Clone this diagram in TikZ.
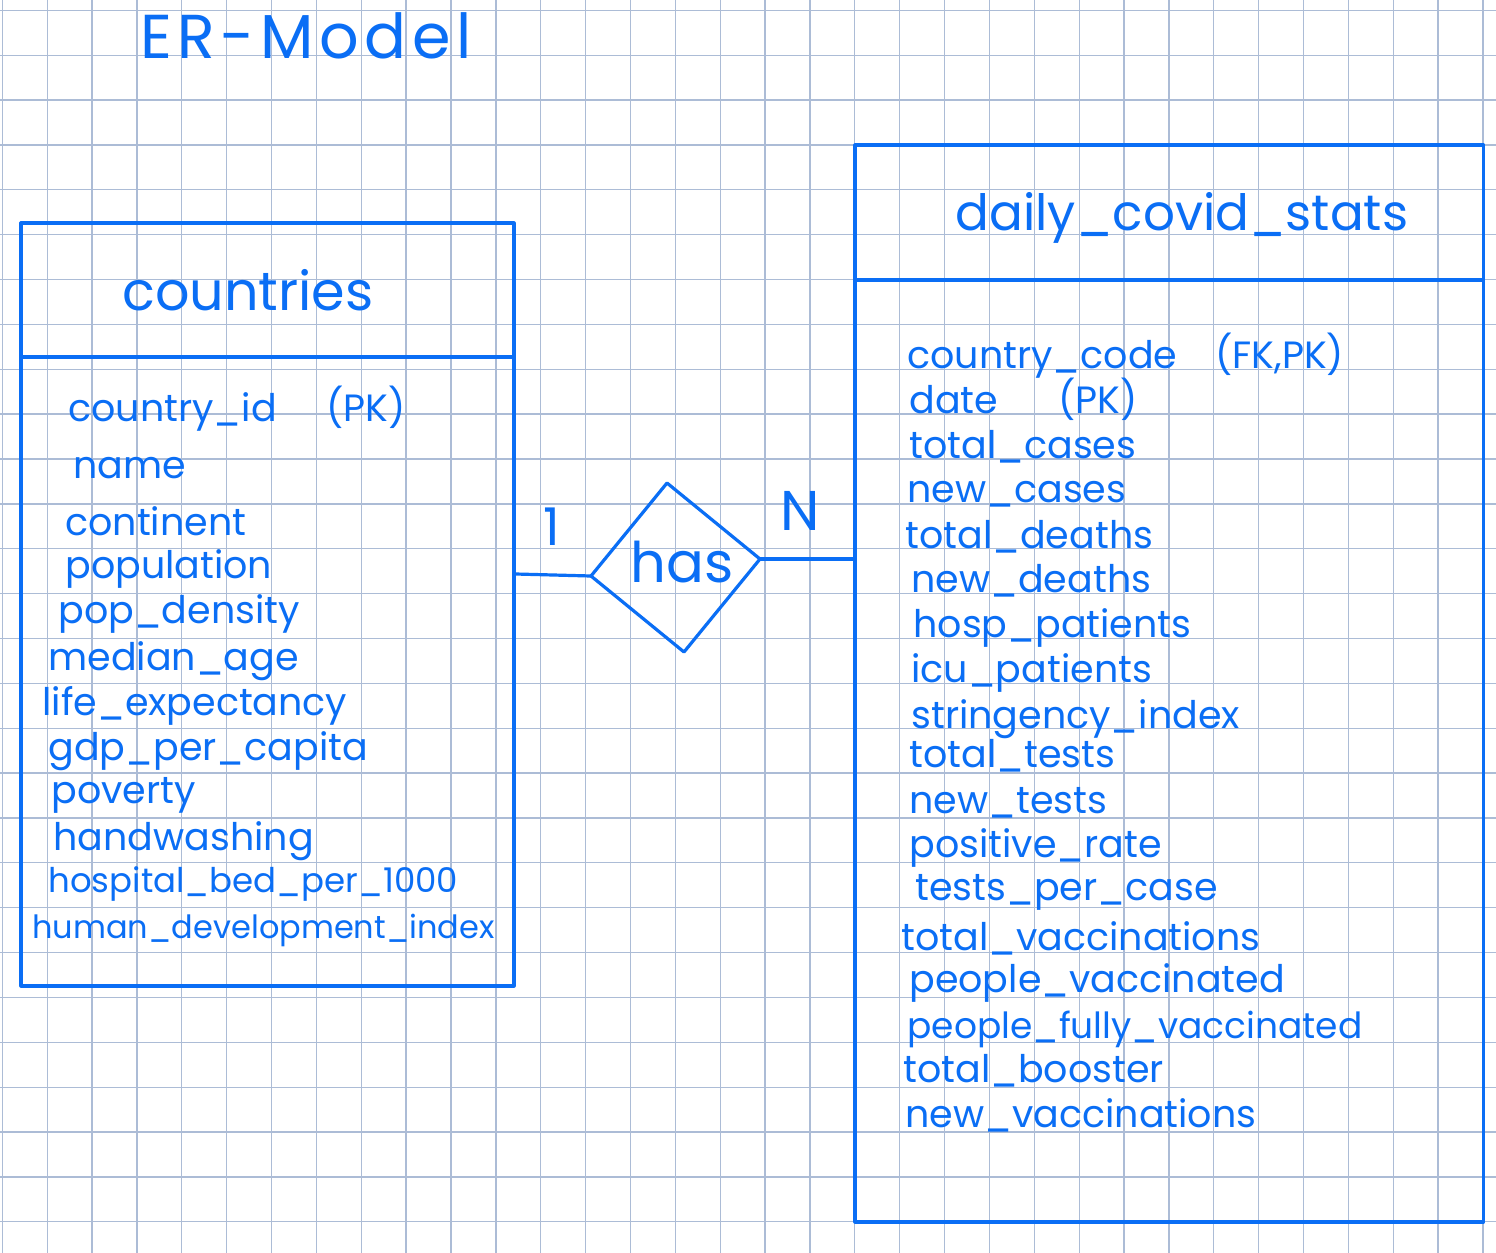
\documentclass[tikz,border=0pt]{standalone}
\usepackage{fontspec}
\setmainfont{Poppins}
\usetikzlibrary{positioning}
\definecolor{penblue}{RGB}{10,110,245}
\definecolor{gridblue}{RGB}{172,188,214}

\begin{document}
\begin{tikzpicture}[x=0.5pt,y=-0.5pt,
        pen/.style={draw=penblue,line width=1.6pt,line join=round},
        gridline/.style={draw=gridblue,line width=0.65pt},
        tablebox/.style={pen,rectangle,inner sep=0pt},
        hand/.style={text=penblue,inner sep=0pt,anchor=base},
        attr/.style={hand,anchor=base west,font=\fontsize{19}{19}\selectfont}]
        \useasboundingbox (0,0) rectangle (1496,1253);
        \fill[white] (0,0) rectangle (1496,1253);
        % squared paper
        \foreach \g in {0,...,33}
            \draw[gridline] ({2.3+44.87*\g},0) -- ({2.3+44.87*\g},1253);
        \foreach \g in {0,...,27}
            \draw[gridline] (0,{10.3+44.87*\g}) -- (1496,{10.3+44.87*\g});

        \node[hand,font=\fontsize{31}{31}\selectfont\addfontfeature{LetterSpace=9}] (title) at (306,58) {ER-Model};

        % entity tables
        \node[tablebox,minimum width=246.5pt,minimum height=381.5pt] (countries) at (267.5,604.5) {};
        \node[tablebox,minimum width=314.25pt,minimum height=538.5pt] (stats) at (1169.25,683.5) {};
        \draw[pen] (countries.west |- 0,357) -- (countries.east |- 0,357);
        \draw[pen] (stats.west |- 0,280) -- (stats.east |- 0,280);
        \node[hand,font=\fontsize{27}{27}\selectfont] (countrieshead) at (248,310) {countries};
        \node[hand,font=\fontsize{25}{25}\selectfont] (statshead) at (1182,230) {daily\_covid\_stats};

        \foreach \x/\y/\t [count=\i] in {68/421/{country\_id\hspace{25pt}(PK)},73/478/name,65/535/continent,
                65/578/population,58/623/pop\_density,48/670/median\_age,42/715/life\_expectancy,
                48/760/gdp\_per\_capita,51/803/poverty,53/850/handwashing,
                48/892/{\fontsize{17}{17}\selectfont hospital\_bed\_per\_1000},
                32/938/{\fontsize{16}{16}\selectfont human\_development\_index}}
            \node[attr] (catt\i) at (\x,\y) {\t};

        \foreach \x/\y/\t [count=\i] in {907/368/{country\_code\quad(FK,PK)},909/413/{date\hspace{30pt}(PK)},
                909/458/total\_cases,907/502/new\_cases,905/548/total\_deaths,911/592/new\_deaths,
                913/637/hosp\_patients,911/682/icu\_patients,911/728/stringency\_index,
                909/767/total\_tests,909/813/new\_tests,909/857/positive\_rate,915/900/tests\_per\_case,
                901/950/total\_vaccinations,909/992/people\_vaccinated,
                907/1038/{\fontsize{18}{18}\selectfont people\_fully\_vaccinated},
                903/1082/total\_booster,905/1127/new\_vaccinations}
            \node[attr] (satt\i) at (\x,\y) {\t};

        % relationship
        \coordinate (hasT) at (667,483);
        \coordinate (hasR) at (760,559);
        \coordinate (hasB) at (684,652);
        \coordinate (hasL) at (591,576);
        \draw[pen] (hasT) -- (hasR) -- (hasB) -- (hasL) -- cycle;
        \node[hand,font=\fontsize{28}{28}\selectfont] (has) at (682,582) {has};
        \draw[pen] (countries.east |- 0,574) -- (hasL);
        \draw[pen] (hasR) -- (hasR -| stats.west);
        \node[hand,font=\fontsize{26}{26}\selectfont] (one) at (552,545) {1};
        \node[hand,font=\fontsize{28}{28}\selectfont] (many) at (800,530) {N};
\end{tikzpicture}
\end{document}
